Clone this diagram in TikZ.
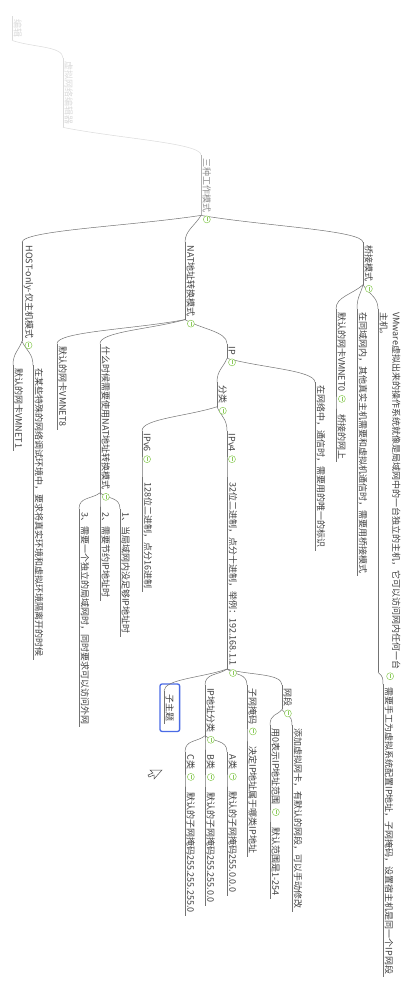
\documentclass[tikz,border=0pt]{standalone}
\usepackage{fontspec}
\setmainfont{Noto Sans CJK SC}
\usetikzlibrary{calc,fit}
\definecolor{linkgray}{rgb}{0.45,0.45,0.45}
\definecolor{txtgray}{rgb}{0.25,0.25,0.25}
\definecolor{fadegray}{rgb}{0.86,0.86,0.86}
\definecolor{foldgreen}{rgb}{0.55,0.80,0.35}
\definecolor{selblue}{rgb}{0.29,0.42,0.90}
\tikzset{
  uline/.style={draw=linkgray, line width=0.5pt},
  topic/.style={rotate=-90, anchor=south west, inner xsep=3pt, inner ysep=1.5pt,
    font=\fontsize{9}{12.5}\selectfont, text=txtgray, align=left,
    append after command={(\tikzlastnode.south west) edge[uline,#1] (\tikzlastnode.south east)}},
  topic/.default={},
  link/.style={draw=linkgray, line width=0.5pt,
    to path={.. controls ($(\tikztostart)!0.4!(\tikztotarget)$) and ($(\tikztotarget)+(0,12pt)$) .. (\tikztotarget)}},
  fold/.style={circle, draw=foldgreen, fill=white, line width=0.5pt, minimum size=7pt, inner sep=0pt,
    path picture={\draw[foldgreen, line width=0.5pt]
      ([yshift=2pt]path picture bounding box.center) -- ([yshift=-2pt]path picture bounding box.center);}},
  selbox/.style={draw=selblue, line width=1.3pt, rounded corners=2pt, inner xsep=4pt, inner ysep=7pt},
}
\begin{document}
\begin{tikzpicture}[x=1pt, y=1pt]
  \fill[white] (0,0) rectangle (404,-988);
  \useasboundingbox (0,0) rectangle (404,-988);
  % faded top of the map
  \node[topic={draw=fadegray}, text=fadegray] (root) at (12,-16) {编辑};
  \node[topic={draw=fadegray}, text=fadegray] (vne) at (63,-58) {虚拟网络编辑器};
  \node[topic={draw=black!30}, text=black!45] (modes) at (201,-155) {三种工作模式};
  \draw[link, draw=fadegray] (root.south east) to (vne.south west);
  \draw[link, draw=fadegray] (vne.south east) to (modes.south west);

  % three modes
  \node[topic] (host) at ([shift={(-179,-27)}]modes.south east) {HOST-only-仅主机模式};
  \node[topic] (nat) at ([shift={(-16,-27)}]modes.south east) {NAT地址转换模式};
  \node[topic] (bridge) at ([shift={(162,-27)}]modes.south east) {桥接模式};
  \draw[link] (modes.south east) to (host.south west);
  \draw[link] (modes.south east) to (nat.south west);
  \draw[link] (modes.south east) to (bridge.south west);

  % host-only
  \node[topic] (vmnet1) at ([shift={(-9,-24)}]host.south east) {默认的网卡VMNET1};
  \node[topic] (hostuse) at ([shift={(11,-24)}]host.south east) {在某些特殊的网络调试环境中，要求将真实环境和虚拟环境隔离开的时候};
  \draw[link] (host.south east) to (vmnet1.south west);
  \draw[link] (host.south east) to (hostuse.south west);

  % nat
  \node[topic] (vmnet8) at ([shift={(-128,-24)}]nat.south east) {默认的网卡VMNET8};
  \node[topic] (natuse) at ([shift={(-85,-24)}]nat.south east) {什么时候需要使用NAT地址转换模式};
  \node[topic] (ip) at ([shift={(42,-24)}]nat.south east) {IP};
  \draw[link] (nat.south east) to (vmnet8.south west);
  \draw[link] (nat.south east) to (natuse.south west);
  \draw[link] (nat.south east) to (ip.south west);
  \node[topic] (nat1) at ([shift={(20,-16)}]natuse.south east) {1、当局域网内没足够IP地址时};
  \node[topic] (nat2) at ([shift={(0,-16)}]natuse.south east) {2、需要节约IP地址时};
  \node[topic] (nat3) at ([shift={(-21,-16)}]natuse.south east) {3、需要一个独立的局域网时，同时要求可以访问外网};
  \draw[link] (natuse.south east) to (nat1.south west);
  \draw[link] (natuse.south east) to (nat2.south west);
  \draw[link] (natuse.south east) to (nat3.south west);

  % ip
  \node[topic] (iptype) at ([shift={(-10,-24)}]ip.south east) {分类};
  \node[topic] (ipmark) at ([shift={(88,-24)}]ip.south east) {在网络中，通信时，需要用的唯一的标识};
  \draw[link] (ip.south east) to (iptype.south west);
  \draw[link] (ip.south east) to (ipmark.south west);
  \node[topic] (ipv6) at ([shift={(-75,-24)}]iptype.south east) {IPv6};
  \node[topic] (ipv4) at ([shift={(10,-24)}]iptype.south east) {IPv4};
  \draw[link] (iptype.south east) to (ipv6.south west);
  \draw[link] (iptype.south east) to (ipv4.south west);
  \node[topic] (ipv6b) at ([shift={(0,-24)}]ipv6.south east) {128位二进制，点分16进制};
  \node[topic] (ipv4b) at ([shift={(0,-24)}]ipv4.south east) {32位二进制，点分十进制，举例：192.168.1.1};
  \draw[link] (ipv6.south east) to (ipv6b.south west);
  \draw[link] (ipv4.south east) to (ipv4b.south west);

  % ipv4 details
  \node[topic] (sub) at ([shift={(-63,-22)}]ipv4b.south east) {子主题};
  \node[selbox, fit=(sub)] (subbox) {};
  \node[topic] (ipclass) at ([shift={(-22,-16)}]ipv4b.south east) {IP地址分类};
  \node[topic] (mask) at ([shift={(20,-16)}]ipv4b.south east) {子网掩码};
  \node[topic] (seg) at ([shift={(55,-16)}]ipv4b.south east) {网段};
  \draw[link] (ipv4b.south east) to (sub.south west);
  \draw[link] (ipv4b.south east) to (ipclass.south west);
  \draw[link] (ipv4b.south east) to (mask.south west);
  \draw[link] (ipv4b.south east) to (seg.south west);

  \node[topic] (clsa) at ([shift={(22,-16)}]ipclass.south east) {A类};
  \node[topic] (clsb) at ([shift={(0,-16)}]ipclass.south east) {B类};
  \node[topic] (clsc) at ([shift={(-20,-16)}]ipclass.south east) {C类};
  \draw[link] (ipclass.south east) to (clsa.south west);
  \draw[link] (ipclass.south east) to (clsb.south west);
  \draw[link] (ipclass.south east) to (clsc.south west);
  \node[topic] (maska) at ([shift={(0,-16)}]clsa.south east) {默认的子网掩码255.0.0.0};
  \node[topic] (maskb) at ([shift={(0,-16)}]clsb.south east) {默认的子网掩码255.255.0.0};
  \node[topic] (maskc) at ([shift={(0,-16)}]clsc.south east) {默认的子网掩码255.255.255.0};
  \draw[link] (clsa.south east) to (maska.south west);
  \draw[link] (clsb.south east) to (maskb.south west);
  \draw[link] (clsc.south east) to (maskc.south west);

  \node[topic] (maskuse) at ([shift={(0,-16)}]mask.south east) {决定IP地址属于哪类IP地址};
  \draw[link] (mask.south east) to (maskuse.south west);

  \node[topic] (segzero) at ([shift={(-12,-16)}]seg.south east) {用0表示IP地址范围};
  \node[topic] (segadd) at ([shift={(10,-16)}]seg.south east) {添加虚拟网卡，有默认的网段，可以手动修改};
  \draw[link] (seg.south east) to (segzero.south west);
  \draw[link] (seg.south east) to (segadd.south west);
  \node[topic] (segrange) at ([shift={(0,-16)}]segzero.south east) {默认范围是1-254};
  \draw[link] (segzero.south east) to (segrange.south west);

  % bridge
  \node[topic] (vmnet0) at ([shift={(-27,-24)}]bridge.south east) {默认的网卡VMNET0};
  \node[topic] (bridgeuse) at ([shift={(-6,-24)}]bridge.south east) {在同域网内，其他真实主机需要和虚拟机通信时，需要用桥接模式};
  \node[topic] (vmw) at ([shift={(15,-24)}]bridge.south east) {VMware虚拟出来的操作系统就像是局域网中的一台独立的主机，它可以访问网内任何一台\\主机。};
  \draw[link] (bridge.south east) to (vmnet0.south west);
  \draw[link] (bridge.south east) to (bridgeuse.south west);
  \draw[link] (bridge.south east) to (vmw.south west);
  \node[topic] (bridgenet) at ([shift={(0,-16)}]vmnet0.south east) {桥接的网上};
  \node[topic] (vmwip) at ([shift={(5,-12)}]vmw.south east) {需要手工为虚拟系统配置IP地址，子网掩码，设置宿主机是同一个IP网段};
  \draw[link] (vmnet0.south east) to (bridgenet.south west);
  \draw[link] (vmw.south east) to (vmwip.south west);

  % fold markers
  \foreach \n in {modes,host,nat,natuse,ip,iptype,ipv6,ipv4,ipv4b,ipclass,clsa,clsb,clsc,mask,seg,segzero,bridge,vmnet0,vmw}
    \node[fold] at ([yshift=-4pt]\n.east) {};

  % mouse pointer
  \draw[black!70, line width=0.5pt, fill=white]
    (162,-770) -- (150,-770) -- (153,-773) -- (148,-775) -- (149,-777) -- (154,-775) -- (154,-779) -- cycle;
\end{tikzpicture}
\end{document}
